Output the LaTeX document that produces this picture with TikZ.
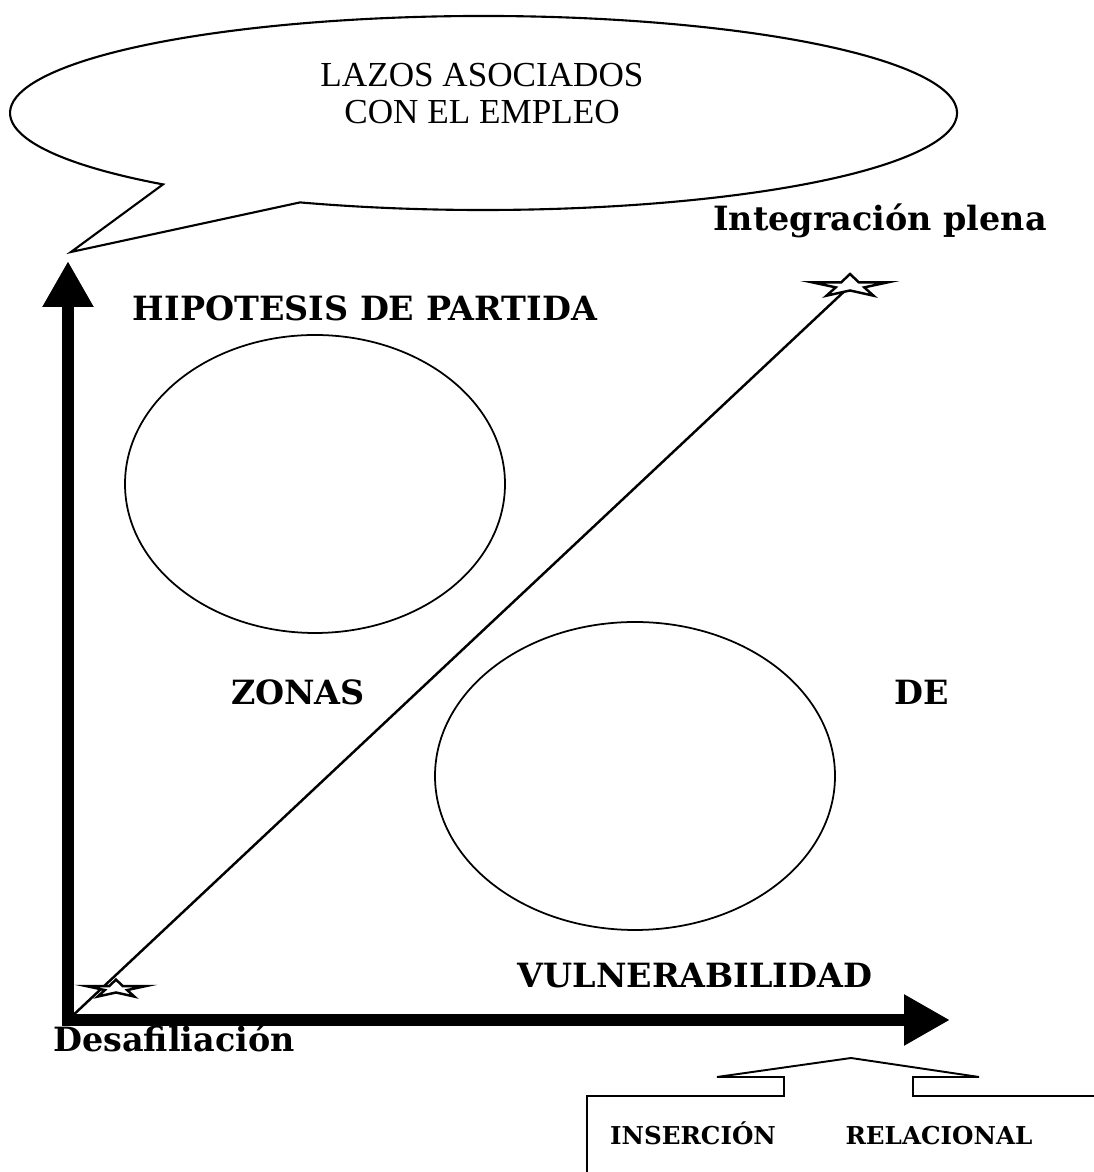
\documentclass[tikz,border=0pt]{standalone}
\usepackage{fontspec}
\setmainfont{DejaVu Serif}
\newfontfamily\lazosfont{Liberation Serif}
\usetikzlibrary{arrows.meta,calc}
\tikzset{
  eje/.style={line width=6.8pt,-{Triangle[length=0.92cm,width=0.96cm]}},
  titulo/.style={anchor=base,font=\bfseries\fontsize{19}{22}\selectfont},
  caja/.style={anchor=base,font=\bfseries\fontsize{14}{17}\selectfont},
  zona/.style={line width=1pt},
  estrella/.pic={
    \draw[line width=1.4pt,fill=white,yscale=0.3]
      (90:40) -- (126:15) -- (162:40) -- (198:15) -- (234:40) -- (270:15)
      -- (306:40) -- (342:15) -- (18:40) -- (54:15) -- cycle;
  }
}

\begin{document}
\begin{tikzpicture}[x=0.02cm,y=0.02cm]
  \useasboundingbox (0,0) rectangle (1094,1172);
  % globo de dialogo
  \draw[line width=1.2pt] (71,920) -- ($(483.5,1059)+(247.2:473.5 and 97)$)
    arc[start angle=247.2,end angle=587.4,x radius=473.5,y radius=97] -- cycle;
  \node[align=center,font=\lazosfont\fontsize{20}{21}\selectfont] (lazos) at (482,1078)
    {LAZOS ASOCIADOS\\CON EL EMPLEO};
  % ejes
  \coordinate (origen) at (68,152);
  \draw[eje] (origen) ++(-6,0) -- (950,152);
  \draw[eje] (origen) ++(0,-6) -- (68,911);
  % zonas
  \draw[zona] (315,688) ellipse [x radius=190,y radius=149];
  \draw[zona] (635,396) ellipse [x radius=200,y radius=154];
  % diagonal
  \coordinate (cima) at (850,886);
  \coordinate (base) at (116,183);
  \draw[line width=1.4pt] (origen) -- (cima);
  \pic at (cima) {estrella};
  \pic[scale=0.78] at (base) {estrella};
  % textos
  \node[titulo] (plena) at (880,941) {Integración plena};
  \node[titulo] (hipotesis) at (365,851) {HIPOTESIS DE PARTIDA};
  \node[titulo] (zonas) at (298,467) {ZONAS};
  \node[titulo] (de) at (922,467) {DE};
  \node[titulo] (vulner) at (695,184) {VULNERABILIDAD};
  \node[titulo] (desaf) at (174,120) {Desafiliación};
  % recuadro inferior
  \draw[line width=1.1pt] (587,0) -- (587,76) -- (784,76) -- (784,95) -- (717,95)
    -- (851,114) -- (979,95) -- (913,95) -- (913,76) -- (1094,76);
  \node[caja] (insercion) at (693,28) {INSERCIÓN};
  \node[caja] (relacional) at (939,28) {RELACIONAL};
\end{tikzpicture}
\end{document}
